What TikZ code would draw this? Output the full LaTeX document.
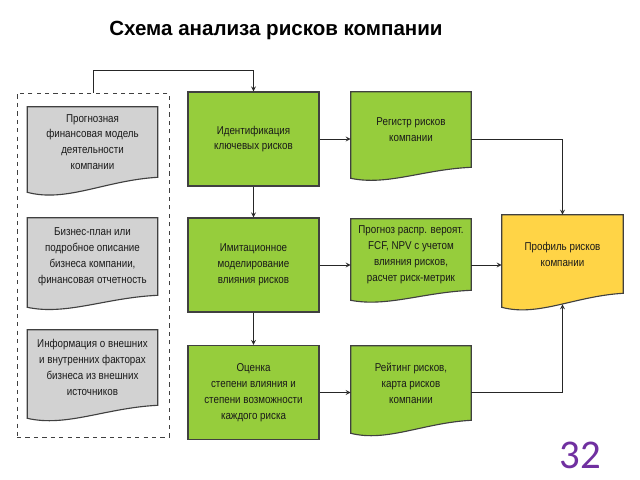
\documentclass[tikz,border=0pt]{standalone}
\usepackage{fontspec}
\usetikzlibrary{calc,backgrounds}
\newfontfamily\narrowsf[FakeStretch=0.86]{Liberation Sans}
\newfontfamily\titlesf{Liberation Sans}
\newfontfamily\numsf{Carlito}
\definecolor{boxgreen}{RGB}{150,205,60}
\definecolor{docgray}{RGB}{210,210,210}
\definecolor{profyellow}{RGB}{255,212,70}
\definecolor{slidenum}{RGB}{112,48,160}

% document shape round a node: name, fill, drop of the wave
\newcommand{\docshape}[3]{%
  \filldraw[fill=#2, draw=black!75, line width=0.8pt]
    (#1.north west) -- (#1.north east) -- (#1.south east)
    .. controls ($(#1.south east)!0.4!(#1.south west)+(0,0.2*#3)$)
    and ($(#1.south east)!0.7!(#1.south west)+(0,1.7*#3)$)
    .. ($(#1.south west)+(0,#3)$) -- cycle;}

\begin{document}
\begin{tikzpicture}[x=0.025cm, y=-0.025cm,
    txt/.style={font=\narrowsf\fontsize{8.1}{11.3}\selectfont, text=black!90,
        align=center, inner sep=0pt},
    keybox/.style={txt, draw=black!75, line width=0.8pt, fill=boxgreen,
        minimum width=3.275cm, minimum height=2.35cm},
    docnode/.style={txt, minimum width=#1},
    link/.style={-stealth, line width=0.6pt, draw=black!85}]
    \useasboundingbox (0,0) rectangle (640,480);

    \node[font=\titlesf\bfseries\fontsize{14.6}{16}\selectfont, anchor=base]
        (title) at (276,35) {Схема анализа рисков компании};

    % input data
    \node[draw=black!75, dashed, line width=0.6pt, minimum width=3.8cm,
        minimum height=8.6cm] (inputs) at (93,265) {};
    \node[docnode=3.25cm, minimum height=1.75cm] (forecast) at (92.5,142)
        {Прогнозная\\финансовая модель\\деятельности\\компании};
    \node[docnode=3.25cm, minimum height=1.925cm] (bizplan) at (92.5,256.5)
        {Бизнес-план или\\подробное описание\\бизнеса компании,\\финансовая отчетность};
    \node[docnode=3.25cm, minimum height=1.875cm] (extinfo) at (92.5,367.5)
        {Информация о внешних\\и внутренних факторах\\бизнеса из внешних\\источников};

    % steps
    \node[keybox] (ident) at (253.5,139) {Идентификация\\ключевых рисков};
    \node[keybox] (imit) at (253.5,265) {Имитационное\\моделирование\\влияния рисков};
    \node[keybox] (evalr) at (253.5,392.5)
        {Оценка\\степени влияния и\\степени возможности\\каждого риска};

    % results
    \node[docnode=3cm, minimum height=1.875cm] (reg) at (411,129.5)
        {Регистр рисков\\компании};
    \node[docnode=3cm, minimum height=1.775cm] (progn) at (411,254.5)
        {Прогноз распр. вероят.\\FCF, NPV с учетом\\влияния рисков,\\расчет риск-метрик};
    \node[docnode=3cm, minimum height=1.85cm] (rating) at (411,383)
        {Рейтинг рисков,\\карта рисков\\компании};
    \node[docnode=3.025cm, minimum height=1.95cm] (profile) at (562.5,254)
        {Профиль рисков\\компании};

    \begin{scope}[on background layer]
        \fill[white] (0,0) rectangle (640,480);
        \docshape{forecast}{docgray}{15}
        \docshape{bizplan}{docgray}{12}
        \docshape{extinfo}{docgray}{13}
        \docshape{reg}{boxgreen}{11}
        \docshape{progn}{boxgreen}{10}
        \docshape{rating}{boxgreen}{13}
        \docshape{profile}{profyellow}{14}
    \end{scope}

    % connectors
    \coordinate (top) at (0,70);
    \coordinate (profbot) at ($(profile.south)+(0,11)$);
    \draw[link] (inputs.north) -- (inputs.north |- top) -| (ident.north);
    \draw[link] (ident) -- (imit);
    \draw[link] (imit) -- (evalr);
    \draw[link] (ident) -- (ident -| reg.west);
    \draw[link] (imit) -- (imit -| progn.west);
    \draw[link] (evalr) -- (evalr -| rating.west);
    \draw[link] (ident -| reg.east) -| (profile.north);
    \draw[link] (imit -| progn.east) -- (imit -| profile.west);
    \draw[link] (evalr -| rating.east) -| (profbot);

    \node[font=\numsf\fontsize{29}{31}\selectfont, text=slidenum, anchor=base,
        inner sep=0pt] (pagenum) at (580,468) {32};
\end{tikzpicture}
\end{document}
